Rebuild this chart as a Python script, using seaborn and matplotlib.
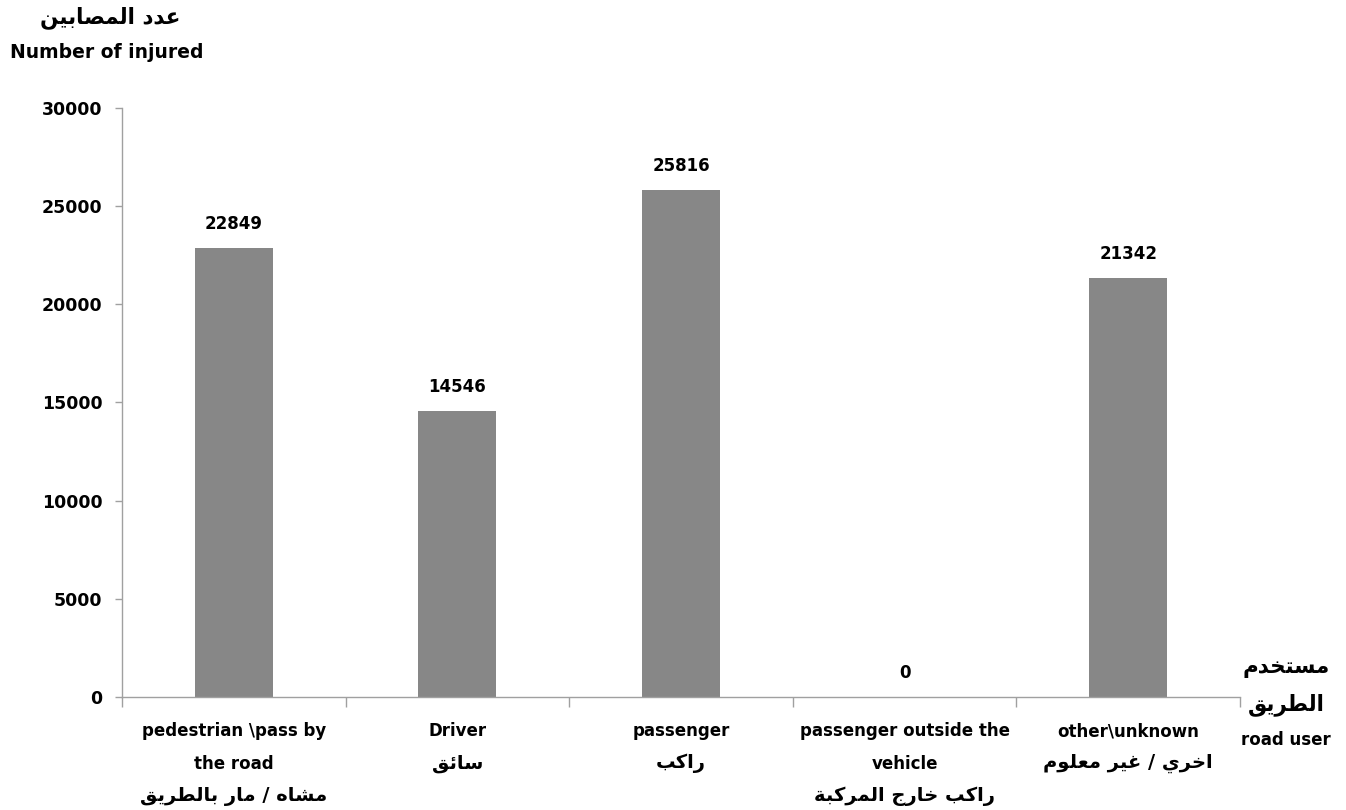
import numpy as np
import pandas as pd
import matplotlib
matplotlib.use("Agg")
import matplotlib.pyplot as plt
import seaborn as sns

# Data
categories_en = ["pedestrian \\pass by\nthe road", "Driver", "passenger",
                 "passenger outside the\nvehicle", "other\\unknown"]
categories_ar = ["مشاه / مار بالطريق", "سائق", "راكب",
                 "راكب خارج المركبة", "اخري / غير معلوم"]
injured = [22849, 14546, 25816, 0, 21342]
y_ticks = [0, 5000, 10000, 15000, 20000, 25000, 30000]

y_title_ar = "عدد المصابين"
y_title_en = "Number of injured"
x_title_ar = ["مستخدم", "الطريق"]
x_title_en = "road user"

# simple Arabic shaping (matplotlib has no shaping / bidi)
FORMS = {
    'ا': ('\uFE8D', '\uFE8E', None, None),
    'ب': ('\uFE8F', '\uFE90', '\uFE91', '\uFE92'),
    'ة': ('\uFE93', '\uFE94', None, None),
    'ت': ('\uFE95', '\uFE96', '\uFE97', '\uFE98'),
    'ج': ('\uFE9D', '\uFE9E', '\uFE9F', '\uFEA0'),
    'خ': ('\uFEA5', '\uFEA6', '\uFEA7', '\uFEA8'),
    'د': ('\uFEA9', '\uFEAA', None, None),
    'ر': ('\uFEAD', '\uFEAE', None, None),
    'س': ('\uFEB1', '\uFEB2', '\uFEB3', '\uFEB4'),
    'ش': ('\uFEB5', '\uFEB6', '\uFEB7', '\uFEB8'),
    'ص': ('\uFEB9', '\uFEBA', '\uFEBB', '\uFEBC'),
    'ط': ('\uFEC1', '\uFEC2', '\uFEC3', '\uFEC4'),
    'ع': ('\uFEC9', '\uFECA', '\uFECB', '\uFECC'),
    'غ': ('\uFECD', '\uFECE', '\uFECF', '\uFED0'),
    'ق': ('\uFED5', '\uFED6', '\uFED7', '\uFED8'),
    'ك': ('\uFED9', '\uFEDA', '\uFEDB', '\uFEDC'),
    'ل': ('\uFEDD', '\uFEDE', '\uFEDF', '\uFEE0'),
    'م': ('\uFEE1', '\uFEE2', '\uFEE3', '\uFEE4'),
    'ن': ('\uFEE5', '\uFEE6', '\uFEE7', '\uFEE8'),
    'ه': ('\uFEE9', '\uFEEA', '\uFEEB', '\uFEEC'),
    'و': ('\uFEED', '\uFEEE', None, None),
    'ي': ('\uFEF1', '\uFEF2', '\uFEF3', '\uFEF4'),
    'ئ': ('\uFE89', '\uFE8A', '\uFE8B', '\uFE8C'),
}


def shape(text):
    # pick joined letter forms, then reverse for right-to-left display
    out = []
    for i, ch in enumerate(text):
        if ch not in FORMS:
            out.append(ch)
            continue
        prev = text[i - 1] if i > 0 else ''
        nxt = text[i + 1] if i < len(text) - 1 else ''
        join_prev = prev in FORMS and FORMS[prev][2] is not None
        join_next = nxt in FORMS and FORMS[ch][2] is not None
        iso, fin, ini, med = FORMS[ch]
        if join_prev and join_next:
            out.append(med)
        elif join_prev:
            out.append(fin)
        elif join_next:
            out.append(ini)
        else:
            out.append(iso)
    return ''.join(out)[::-1]


sns.set_style("white")
plt.rcParams['font.family'] = ['DejaVu Sans']
plt.rcParams['font.weight'] = 'bold'
plt.rcParams['text.color'] = 'black'
plt.rcParams['ytick.labelcolor'] = 'black'

df = pd.DataFrame({"cat": [str(i) for i in range(len(injured))], "injured": injured})

fig = plt.figure(figsize=(13.46, 8.10), dpi=100)
ax = fig.add_axes([0.0906, 0.1395, 0.8306, 0.7272])

sns.barplot(data=df, x="cat", y="injured", color="#878787", width=0.35,
            saturation=1, linewidth=0, ax=ax)

ax.bar_label(ax.containers[0], labels=[str(v) for v in injured], padding=11,
             fontsize=12, fontweight="bold", color="black")

ax.set_xlabel("")
ax.set_ylabel("")
ax.set_xlim(-0.5, len(injured) - 0.5)
ax.set_ylim(0, 30000)
ax.set_yticks(y_ticks)
ax.set_yticklabels([str(v) for v in y_ticks], fontsize=12.5, fontweight="bold")
ax.tick_params(axis="y", length=5, width=1, color="#a0a0a0", labelcolor="black",
               pad=9, left=True)

# category labels under axis, ticks between categories
ax.set_xticks(range(len(injured)))
ax.set_xticklabels([])
ax.tick_params(axis="x", which="major", length=0)
ax.set_xticks(np.arange(-0.5, len(injured), 1), minor=True)
ax.tick_params(axis="x", which="minor", length=7, width=1, color="#a0a0a0", bottom=True)

for i, (en, ar) in enumerate(zip(categories_en, categories_ar)):
    lines = en.split("\n")
    for k, line in enumerate(lines):
        ax.annotate(line, xy=(i, 0), xycoords=("data", "axes fraction"),
                    xytext=(0, -34 - 32.5 * k), textcoords="offset pixels",
                    ha="center", va="center", fontsize=12, fontweight="bold",
                    color="black")
    ax.annotate(shape(ar), xy=(i, 0), xycoords=("data", "axes fraction"),
                xytext=(0, -34 - 32.5 * len(lines)), textcoords="offset pixels",
                ha="center", va="center", fontsize=14, fontweight="bold",
                color="black")

for s in ["top", "right"]:
    ax.spines[s].set_visible(False)
for s in ["left", "bottom"]:
    ax.spines[s].set_color("#a0a0a0")
    ax.spines[s].set_linewidth(1)

# axis titles
fig.text(110 / 1346, 1 - 18 / 810, shape(y_title_ar), ha="center", va="center",
         fontsize=15.5, fontweight="bold", color="black")
fig.text(10 / 1346, 1 - 52 / 810, y_title_en, ha="left", va="center",
         fontsize=13.5, fontweight="bold", color="black")
fig.text(1286 / 1346, 1 - 668 / 810, shape(x_title_ar[0]), ha="center", va="center",
         fontsize=15.5, fontweight="bold", color="black")
fig.text(1286 / 1346, 1 - 705 / 810, shape(x_title_ar[1]), ha="center", va="center",
         fontsize=15.5, fontweight="bold", color="black")
fig.text(1286 / 1346, 1 - 740 / 810, x_title_en, ha="center", va="center",
         fontsize=12, fontweight="bold", color="black")

fig.savefig("out.png", dpi=100)
